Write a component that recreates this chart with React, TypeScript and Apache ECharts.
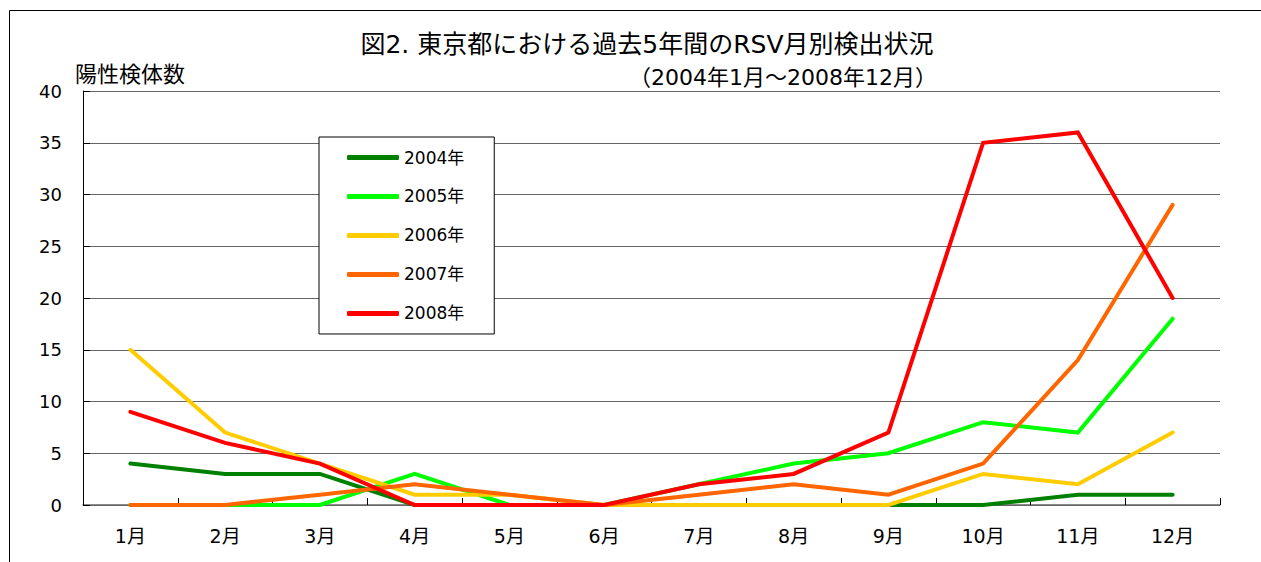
import React, { useEffect, useRef } from "react";
import * as echarts from "echarts";

const months = ["1月", "2月", "3月", "4月", "5月", "6月", "7月", "8月", "9月", "10月", "11月", "12月"];
const years = ["2004年", "2005年", "2006年", "2007年", "2008年"];
const colors = ["#008000", "#00FF00", "#FFCC00", "#FF6600", "#FF0000"];
const y2004 = [4, 3, 3, 0, 0, 0, 0, 0, 0, 0, 1, 1];
const y2005 = [0, 0, 0, 3, 0, 0, 2, 4, 5, 8, 7, 18];
const y2006 = [15, 7, 4, 1, 1, 0, 0, 0, 0, 3, 2, 7];
const y2007 = [0, 0, 1, 2, 1, 0, 1, 2, 1, 4, 14, 29];
const y2008 = [9, 6, 4, 0, 0, 0, 2, 3, 7, 35, 36, 20];
const seriesData = [y2004, y2005, y2006, y2007, y2008];

const titleText = "図2. 東京都における過去5年間のRSV月別検出状況";
const subtitleText = "（2004年1月～2008年12月）";
const yAxisName = "陽性検体数";

const FONT = "'DejaVu Sans', 'Noto Sans CJK JP', sans-serif";

export default function App() {
  const ref = useRef<HTMLDivElement>(null);
  useEffect(() => {
    if (!ref.current) return;
    const chart = echarts.init(ref.current, null, { renderer: "svg" });
    chart.setOption({
      animation: false,
      backgroundColor: "#ffffff",
      textStyle: { fontFamily: FONT },
      title: [
        {
          text: titleText,
          left: 642,
          top: 27,
          textAlign: "center",
          textStyle: { fontSize: 25, fontWeight: "normal", color: "#000", fontFamily: FONT },
        },
        {
          text: subtitleText,
          left: 778,
          top: 61,
          textAlign: "center",
          textStyle: { fontSize: 22, fontWeight: "normal", color: "#000", fontFamily: FONT },
        },
      ],
      graphic: [
        {
          type: "rect",
          shape: { x: 9.5, y: 10.5, width: 1400, height: 700 },
          style: { fill: "none", stroke: "#000", lineWidth: 1 },
          silent: true,
        },
        {
          type: "text",
          left: 75,
          top: 63,
          style: { text: yAxisName, fontSize: 22, fill: "#000", fontFamily: FONT },
        },
      ],
      legend: {
        orient: "vertical",
        left: 319,
        top: 137,
        padding: [12, 30, 12, 28],
        itemGap: 22,
        itemWidth: 52,
        itemHeight: 5,
        icon: "roundRect",
        borderColor: "#000",
        borderWidth: 1,
        backgroundColor: "#fff",
        textStyle: { fontSize: 17, color: "#000", fontFamily: FONT },
        data: years,
      },
      grid: { left: 83, top: 91, right: 41, bottom: 57, containLabel: false },
      xAxis: {
        type: "category",
        data: months,
        boundaryGap: true,
        axisLine: { show: true, lineStyle: { color: "#666", width: 1.5 } },
        axisTick: { show: true, inside: true, length: 7, lineStyle: { color: "#000" } },
        axisLabel: { margin: 21, fontSize: 19, color: "#000", fontFamily: FONT },
        splitLine: { show: false },
      },
      yAxis: {
        type: "value",
        min: 0,
        max: 40,
        interval: 5,
        axisLine: { show: true, lineStyle: { color: "#000", width: 1 } },
        axisTick: { show: true, inside: true, length: 7, lineStyle: { color: "#000" } },
        axisLabel: { margin: 21, fontSize: 18, color: "#000", fontFamily: FONT },
        splitLine: { show: true, lineStyle: { color: "#666", width: 1.2 } },
      },
      series: seriesData.map((d, i) => ({
        name: years[i],
        type: "line",
        data: d,
        symbol: "none",
        color: colors[i],
        lineStyle: { color: colors[i], width: 4, cap: "round", join: "miter" },
        itemStyle: { color: colors[i] },
      })),
    });
    return () => chart.dispose();
  }, []);
  return (
    <div
      ref={ref}
      style={{ position: "fixed", left: 0, top: 0, width: 1261, height: 562, background: "#fff" }}
    />
  );
}
